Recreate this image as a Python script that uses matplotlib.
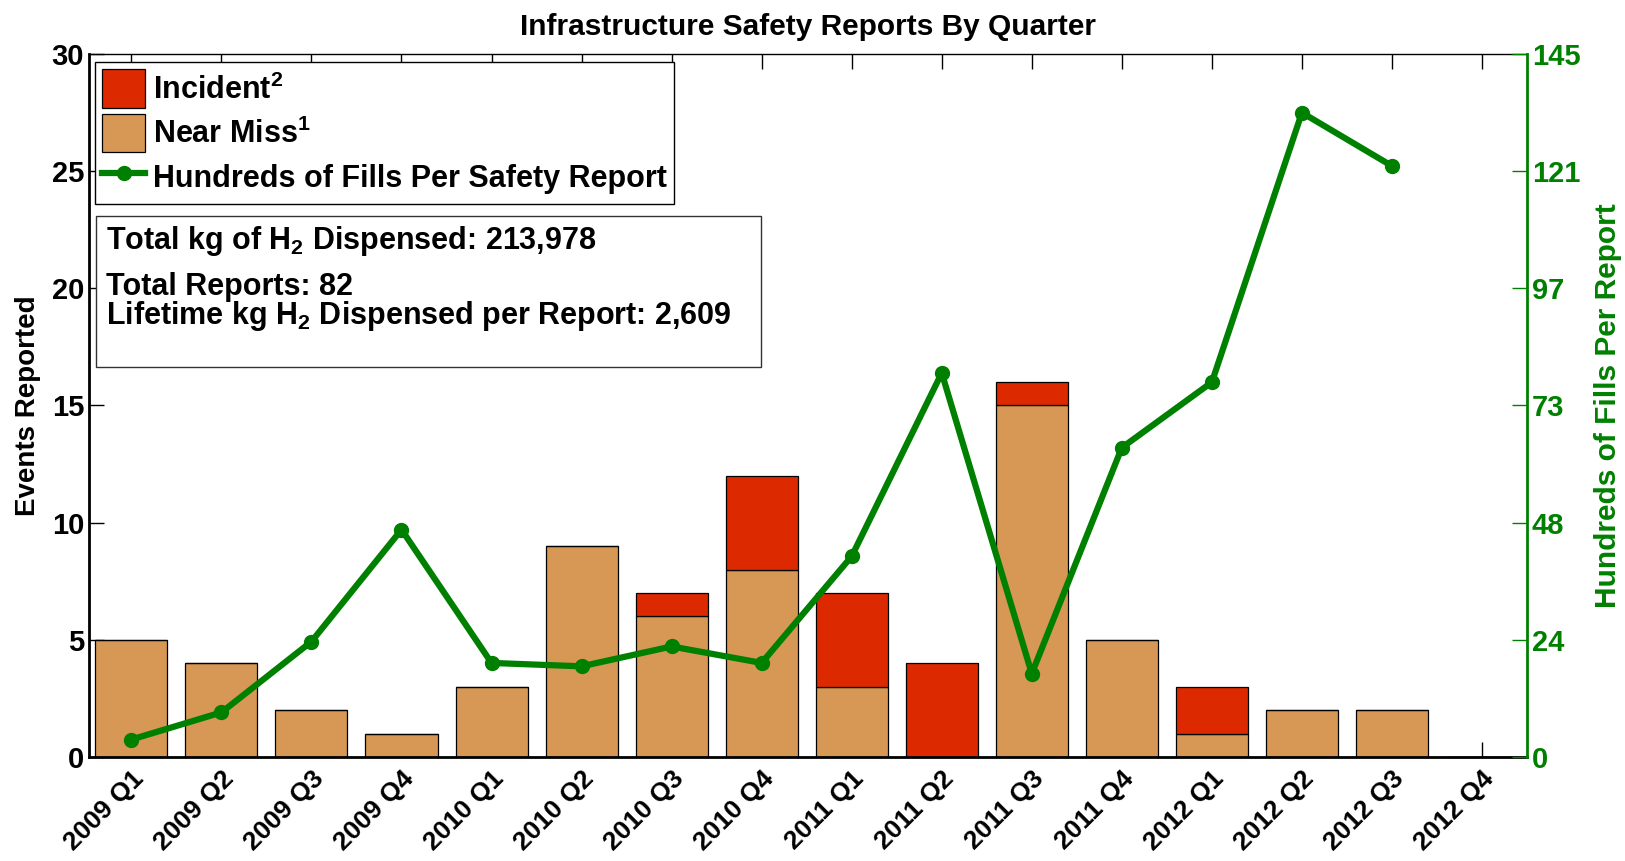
import numpy as np
import matplotlib
matplotlib.use('Agg')
import matplotlib.pyplot as plt
from matplotlib.patches import Patch, Rectangle
from matplotlib.lines import Line2D

quarters = ['2009 Q1', '2009 Q2', '2009 Q3', '2009 Q4',
            '2010 Q1', '2010 Q2', '2010 Q3', '2010 Q4',
            '2011 Q1', '2011 Q2', '2011 Q3', '2011 Q4',
            '2012 Q1', '2012 Q2', '2012 Q3', '2012 Q4']
near_miss = [5, 4, 2, 1, 3, 9, 6, 8, 3, 0, 15, 5, 1, 2, 2, 0]
incident = [0, 0, 0, 0, 0, 0, 1, 4, 4, 4, 1, 0, 2, 0, 0, 0]
fills_per_report = [3.6, 9.2, 23.8, 46.9, 19.4, 18.7, 22.8, 19.4,
                    41.4, 79.2, 17.2, 63.8, 77.3, 132.9, 121.9, np.nan]
right_tick_labels = ['0', '24', '48', '73', '97', '121', '145']

plt.rcParams['font.family'] = ['Liberation Sans', 'DejaVu Sans']
plt.rcParams['font.weight'] = 'bold'
plt.rcParams['mathtext.fontset'] = 'custom'
plt.rcParams['mathtext.bf'] = 'Liberation Sans:bold'
plt.rcParams['mathtext.rm'] = 'Liberation Sans:bold'
plt.rcParams['mathtext.default'] = 'bf'

tan = '#D69854'
red = '#DD2900'
green = '#008000'

fig = plt.figure(figsize=(16.25, 8.61), dpi=100)
ax = fig.add_axes([0.0548, 0.1208, 0.8849, 0.8165])
x = np.arange(len(quarters))

ax.bar(x, near_miss, width=0.8, color=tan, edgecolor='black', linewidth=0.9, zorder=2)
ax.bar(x, incident, width=0.8, bottom=near_miss, color=red, edgecolor='black',
       linewidth=0.9, zorder=2)

ax.set_xlim(-0.47, 15.5)
ax.set_ylim(0, 30)
ax.set_yticks([0, 5, 10, 15, 20, 25, 30])
ax.set_xticks(x)
ax.set_xticklabels(quarters, rotation=45, ha='right', rotation_mode='anchor',
                   fontsize=19, fontweight='bold')
ax.tick_params(axis='x', direction='in', length=11, width=1, top=True, pad=7)
ax.tick_params(axis='y', direction='in', length=11, width=1, labelsize=21)
ax.set_ylabel('Events Reported', fontsize=20, fontweight='bold', labelpad=8)
ax.set_title('Infrastructure Safety Reports By Quarter', fontsize=21.5,
             fontweight='bold', pad=14)
for s in ['left', 'bottom']:
    ax.spines[s].set_linewidth(2)
ax.spines['top'].set_linewidth(1)
ax.spines['right'].set_visible(False)

ax2 = ax.twinx()
ax2.plot(x, fills_per_report, color=green, lw=4.5, marker='o', markersize=10, zorder=3)
ax2.set_ylim(0, 145)
ax2.set_yticks(np.linspace(0, 145, 7))
ax2.set_yticklabels(right_tick_labels)
ax2.tick_params(axis='y', direction='in', length=11, width=1, colors=green, labelsize=21)
ax2.set_ylabel('Hundreds of Fills Per Report', fontsize=21.5, fontweight='bold',
               color=green, labelpad=10)
ax2.spines['right'].set_color(green)
ax2.spines['right'].set_linewidth(2)
for s in ['left', 'top', 'bottom']:
    ax2.spines[s].set_visible(False)

handles = [Patch(facecolor=red, edgecolor='black', linewidth=0.9),
           Patch(facecolor=tan, edgecolor='black', linewidth=0.9),
           Line2D([], [], color=green, lw=4.5, marker='o', markersize=10)]
labels = [r'Incident$^{2}$', r'Near Miss$^{1}$', 'Hundreds of Fills Per Safety Report']
leg = ax2.legend(handles, labels, loc='upper left', bbox_to_anchor=(0.004, 0.989),
                 borderaxespad=0, fancybox=False, framealpha=1, edgecolor='black',
                 prop={'size': 22, 'weight': 'bold'}, handlelength=1.4,
                 handleheight=1.55, handletextpad=0.25, labelspacing=0.2,
                 borderpad=0.25)
leg.get_frame().set_linewidth(1)

ax2.add_patch(Rectangle((0.005, 0.555), 0.462, 0.2146, transform=ax2.transAxes,
                        facecolor='white', edgecolor='#333333', linewidth=1, zorder=5))
info = ['Total kg of H$_{2}$ Dispensed: 213,978',
        'Total Reports: 82',
        'Lifetime kg H$_{2}$ Dispensed per Report: 2,609']
for txt, yy in zip(info, [0.7226, 0.657, 0.616]):
    ax2.text(0.0118, yy, txt, transform=ax2.transAxes, fontsize=22, fontweight='bold',
             va='baseline', ha='left', zorder=6)

fig.savefig('out.png', dpi=100)
